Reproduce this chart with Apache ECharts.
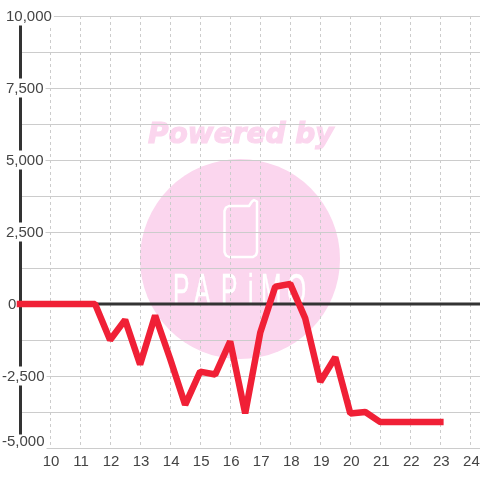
<!DOCTYPE html>
<html><head><meta charset="utf-8">
<style>html,body{margin:0;padding:0;background:#fff}#c{width:480px;height:480px}</style>
<script src="https://cdn.jsdelivr.net/npm/echarts@6/dist/echarts.min.js"></script>
</head><body><div id="c"></div>
<script>
const hours = [9,9.5,10,10.5,11,11.5,12,12.5,13,13.5,14,14.5,15,15.5,16,16.5,17,17.5,18,18.5,19,19.5,20,20.5,21,21.5,22,22.5,23];
const balance = [0,0,0,0,0,0,-1250,-550,-2100,-400,-1900,-3500,-2350,-2450,-1300,-3800,-1000,600,700,-500,-2700,-1850,-3800,-3750,-4100,-4100,-4100,-4100,-4100];
const zeroHours = [9,24.32];
const zeroValues = [0,0];
const watermarkTop = 'Powered by';
const watermarkBrand = ['P','A','P','i','M','O'];
const brandX = [173,194,221,248,261,287];
const pairs = (a,b)=>a.map((v,i)=>[v,b[i]]);
const fmt = v => v.toLocaleString('en-US');
const chart = echarts.init(document.getElementById('c'),null,{renderer:'canvas'});
const pink = '#fbd6ee';
const phoneOutline = [[229,206],[249,206],[252,201.5],[254,200],[257,201.5],[257,252],[256,255],[253,257],[229,257],[226,255.5],[224.5,252],[224.5,211],[226,207.5]];
chart.setOption({
  animation:false,
  backgroundColor:'#fff',
  grid:{left:20,right:0,top:16,bottom:32,containLabel:false,outerBoundsMode:'none'},
  xAxis:{type:'value',min:9,max:24.32,interval:1,
    axisLine:{onZero:false,lineStyle:{color:'#ccc',width:1}},
    axisTick:{show:false},
    axisLabel:{margin:6,fontSize:15,color:'#444',fontFamily:'Liberation Sans',showMinLabel:false,showMaxLabel:false,
      padding:[0,0,0,2],
      formatter:v=>Number.isInteger(v)&&v>=10?String(v):''},
    splitLine:{show:true,lineStyle:{color:'#ccc',width:1,type:[3,3]}}},
  yAxis:{type:'value',min:-5000,max:10000,interval:1250,
    axisLine:{show:true,onZero:false,lineStyle:{color:'#333',width:3}},
    axisTick:{show:false},
    axisLabel:{align:'left',margin:18,fontSize:15,color:'#444',fontFamily:'Liberation Sans',
      formatter:v=>{
        if(v%2500!==0) return '';
        if(v===-5000) return '{b|'+fmt(v)+'}';
        if(v<0) return '{n|'+fmt(v)+'}';
        if(v===0) return '{z|'+fmt(v)+'}';
        return '{p|'+fmt(v)+'}';
      },
      rich:{
        p:{padding:[3,2,1,4],backgroundColor:'#fff',fontSize:15,color:'#444'},
        n:{padding:[3,2,1,0],backgroundColor:'#fff',fontSize:15,color:'#444'},
        z:{padding:[3,2,1,6],backgroundColor:'#fff',fontSize:15,color:'#444'},
        b:{padding:[0,2,12,0],backgroundColor:'#fff',fontSize:15,color:'#444'}
      }},
    splitLine:{show:true,lineStyle:{color:'#ccc',width:1}}},
  graphic:[
    {type:'circle',z:-10,silent:true,shape:{cx:240,cy:259,r:100},style:{fill:pink}},
    {type:'text',z:-10,silent:true,x:148,y:122,style:{text:watermarkTop,fill:pink,stroke:pink,lineWidth:1.2,font:'italic bold 28px "DejaVu Sans"'}},
    {type:'polygon',z:-9,silent:true,shape:{points:phoneOutline},style:{fill:'none',stroke:'#fff',lineWidth:2.5,lineJoin:'round'}},
    ...watermarkBrand.map((ch,i)=>({type:'text',z:-9,silent:true,x:brandX[i],y:271,scaleX:0.56,style:{text:ch,fill:'#fff',stroke:'#fff',lineWidth:0.5,font:'44px "Liberation Sans"'}}))
  ],
  series:[
    {type:'line',z:2,silent:true,symbol:'none',data:pairs(zeroHours,zeroValues),lineStyle:{color:'#333',width:3}},
    {type:'line',z:5,silent:true,symbol:'none',clip:false,data:pairs(hours,balance),
      lineStyle:{color:'#f02036',width:6.5,cap:'square',join:'bevel'}}
  ]
});
</script></body></html>
